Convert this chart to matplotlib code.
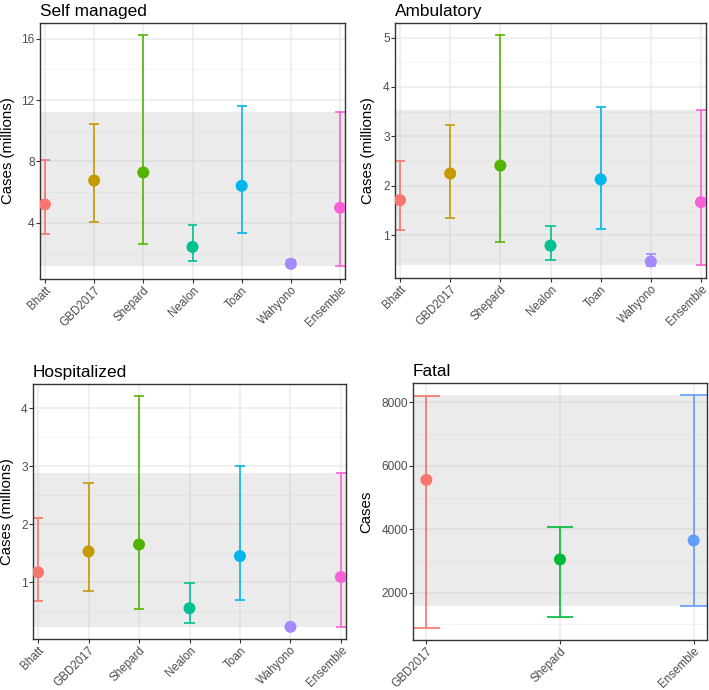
import matplotlib
matplotlib.use("Agg")
import matplotlib.pyplot as plt
import numpy as np

plt.rcParams['font.family'] = ['Liberation Sans', 'DejaVu Sans']

# ---------------- data ----------------
models7 = ["Bhatt", "GBD2017", "Shepard", "Nealon", "Toan", "Wahyono", "Ensemble"]
colors7 = ["#F8766D", "#C49A00", "#53B400", "#00C094", "#00B6EB", "#A58AFF", "#FB61D7"]

self_mid = [5.20, 6.76, 7.28, 2.43, 6.41, 1.33, 4.98]
self_lo = [3.30, 4.07, 2.61, 1.52, 3.37, 1.10, 1.17]
self_hi = [8.09, 10.41, 16.26, 3.83, 11.61, 1.58, 11.20]

amb_mid = [1.71, 2.25, 2.41, 0.79, 2.13, 0.47, 1.67]
amb_lo = [1.11, 1.35, 0.87, 0.49, 1.13, 0.37, 0.40]
amb_hi = [2.51, 3.24, 5.06, 1.18, 3.60, 0.63, 3.53]

hosp_mid = [1.17, 1.53, 1.65, 0.55, 1.45, 0.23, 1.09]
hosp_lo = [0.68, 0.84, 0.53, 0.30, 0.70, 0.22, 0.22]
hosp_hi = [2.11, 2.72, 4.22, 0.99, 3.01, 0.24, 2.89]

models3 = ["GBD2017", "Shepard", "Ensemble"]
colors3 = ["#F8766D", "#00BA38", "#619CFF"]
fatal_mid = [5556, 3049, 3647]
fatal_lo = [878, 1245, 1591]
fatal_hi = [8200, 4077, 8241]

W, H = 709, 690
fig = plt.figure(figsize=(W / 100, H / 100), dpi=100)


def px_axes(x0, y0, x1, y1):
    ax = fig.add_axes([x0 / W, 1 - y1 / H, (x1 - x0) / W, (y1 - y0) / H])
    ax._px = (x0, x1)
    return ax


def panel(ax, title, ylabel, label_right_px, cats, cols, mid, lo, hi, yticks, cap=0.2):
    n = len(cats)
    x = np.arange(1, n + 1)
    ax.set_facecolor("white")
    dmin, dmax = min(lo), max(hi)
    pad = 0.05 * (dmax - dmin)
    ylo, yhi = dmin - pad, dmax + pad
    step = yticks[1] - yticks[0]
    minors = [t - step / 2 for t in yticks] + [yticks[-1] + step / 2]
    for m in minors:
        if ylo < m < yhi:
            ax.axhline(m, color="#F2F2F2", lw=0.6, zorder=0.5)
    for t in yticks:
        ax.axhline(t, color="#EBEBEB", lw=1.1, zorder=0.6)
    for xi in x:
        ax.axvline(xi, color="#EBEBEB", lw=1.1, zorder=0.6)
    # ensemble band
    ax.axhspan(lo[-1], hi[-1], color="#BEBEBE", alpha=0.3, lw=0, zorder=1)
    # error bars
    ax.vlines(x, lo, hi, colors=cols, lw=1.2, zorder=2)
    ax.hlines(lo, x - cap / 2, x + cap / 2, colors=cols, lw=1.2, zorder=2)
    ax.hlines(hi, x - cap / 2, x + cap / 2, colors=cols, lw=1.2, zorder=2)
    ax.scatter(x, mid, s=75, c=cols, zorder=3, linewidths=0)
    ax.set_xlim(1 - cap / 2, n + cap / 2)
    ax.set_ylim(ylo, yhi)
    ax.set_xticks(x)
    ax.set_xticklabels(cats, rotation=45, ha="right", va="top",
                       rotation_mode="anchor", fontsize=8.4, color="#4D4D4D")
    ax.set_yticks(yticks)
    ax.set_yticklabels([str(t) for t in yticks], fontsize=8.6, color="#4D4D4D")
    ax.tick_params(axis="both", length=2.75, width=0.8, color="#333333", pad=1.0)
    for s in ax.spines.values():
        s.set_color("#333333")
        s.set_linewidth(1.0)
    ax.set_ylabel(ylabel, fontsize=10.8, color="black")
    x0, x1 = ax._px
    ax.yaxis.set_label_coords((label_right_px - x0) / (x1 - x0), 0.5)
    ax.set_title(title, loc="left", fontsize=12.4, pad=5, color="black")


ax1 = px_axes(40, 23, 345, 279)
panel(ax1, "Self managed", "Cases (millions)", 15, models7, colors7,
      self_mid, self_lo, self_hi, [4, 8, 12, 16])

ax2 = px_axes(395, 23, 706, 278)
panel(ax2, "Ambulatory", "Cases (millions)", 375, models7, colors7,
      amb_mid, amb_lo, amb_hi, [1, 2, 3, 4, 5])

ax3 = px_axes(33, 384, 346, 639)
panel(ax3, "Hospitalized", "Cases (millions)", 14, models7, colors7,
      hosp_mid, hosp_lo, hosp_hi, [1, 2, 3, 4])

ax4 = px_axes(413, 383, 707, 640)
panel(ax4, "Fatal", "Cases", 373, models3, colors3,
      fatal_mid, fatal_lo, fatal_hi, [2000, 4000, 6000, 8000])

fig.savefig("out.png", dpi=100)
